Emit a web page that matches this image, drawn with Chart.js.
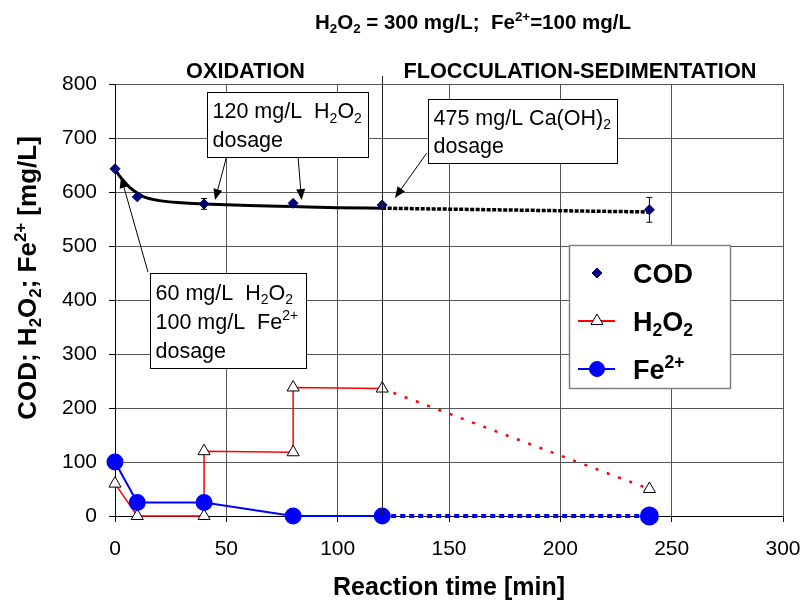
<!DOCTYPE html>
<html>
<head>
<meta charset="utf-8">
<script src="https://cdn.jsdelivr.net/npm/chart.js@4"></script>
<style>
body { margin: 0; background: #fff; }
</style>
</head>
<body>
<canvas id="fenton-chart" width="806" height="603"></canvas>
<script>
const ctx = document.getElementById('fenton-chart');
const FONT = "'Liberation Sans', Arial, sans-serif";

// axis ticks
const xTicks = [0, 50, 100, 150, 200, 250, 300];
const yTicks = [0, 100, 200, 300, 400, 500, 600, 700, 800];

// COD measurements (reaction time [min] / mg/L)
const codTime = [0, 10, 40, 80, 120, 240];
const codValues = [643, 591, 578, 579, 576, 567];
const codErr = [0, 0, 10, 0, 0, 23];

// COD trend curve
const codFitTime = [0, 2, 4, 7, 10, 13, 20, 30, 40, 60, 80, 100, 120];
const codFitValues = [642, 630, 620, 607, 598, 591, 584, 580, 578, 575, 573, 571, 570];
const codTailTime = [120, 240];
const codTailValues = [570, 563];

// H2O2
const h2o2Time = [0, 10, 40, 40, 80, 80, 120];
const h2o2Values = [60, 0, 0, 120, 118, 238, 236];
const h2o2TailTime = [120, 240];
const h2o2TailValues = [236, 50];

// Fe2+
const feTime = [0, 10, 40, 80, 120];
const feValues = [100, 25, 25, 0, 0];
const feTailTime = [120, 240];
const feTailValues = [0, 0];

function pts(xs, ys) {
    return xs.map((x, i) => ({x: x, y: ys[i]}));
}

// rich text: parts = [[text, 'n'|'sub'|'sup'], ...], y = baseline
function richWidth(c, parts, size, weight, family) {
    let w = 0;
    parts.forEach(p => {
        const s = p[1] === 'n' ? size : size * 0.65;
        c.font = `${weight} ${s}px ${family}`;
        w += c.measureText(p[0]).width;
    });
    return w;
}
function drawRich(c, parts, x, y, size, weight, family, align) {
    const w = richWidth(c, parts, size, weight, family);
    let cx = align === 'center' ? x - w / 2 : x;
    c.textAlign = 'left';
    c.textBaseline = 'alphabetic';
    parts.forEach(p => {
        const s = p[1] === 'n' ? size : size * 0.65;
        c.font = `${weight} ${s}px ${family}`;
        let dy = 0;
        if (p[1] === 'sub') dy = size * 0.2;
        if (p[1] === 'sup') dy = -size * 0.4;
        c.fillText(p[0], cx, y + dy);
        cx += c.measureText(p[0]).width;
    });
}

function arrow(c, x1, y1, x2, y2) {
    const a = Math.atan2(y2 - y1, x2 - x1);
    const len = 11, half = 4.5;
    c.beginPath();
    c.moveTo(x1, y1);
    c.lineTo(x2 - Math.cos(a) * len, y2 - Math.sin(a) * len);
    c.lineWidth = 1;
    c.strokeStyle = '#000';
    c.stroke();
    c.beginPath();
    c.moveTo(x2, y2);
    c.lineTo(x2 - Math.cos(a) * len - Math.sin(a) * half, y2 - Math.sin(a) * len + Math.cos(a) * half);
    c.lineTo(x2 - Math.cos(a) * len + Math.sin(a) * half, y2 - Math.sin(a) * len - Math.cos(a) * half);
    c.closePath();
    c.fillStyle = '#000';
    c.fill();
}

// annotation boxes, in data units (min, mg/L)
const notes = [
    {box: [41.3, 113.6, 785, 665], lines: [
        [['120 mg/L  H', 'n'], ['2', 'sub'], ['O', 'n'], ['2', 'sub']],
        [['dosage', 'n']]],
     arrows: [[50.1, 665, 44.9, 585], [82.2, 665, 83.8, 585]]},
    {box: [140.5, 225.4, 772, 654], lines: [
        [['475 mg/L Ca(OH)', 'n'], ['2', 'sub']],
        [['dosage', 'n']]],
     arrows: [[140, 672, 125.7, 589]]},
    {box: [15.7, 85.8, 450, 274], lines: [
        [['60 mg/L  H', 'n'], ['2', 'sub'], ['O', 'n'], ['2', 'sub']],
        [['100 mg/L  Fe', 'n'], ['2+', 'sup']],
        [['dosage', 'n']]],
     arrows: [[14.8, 452, 2.7, 628]]}
];

const extras = {
    id: 'extras',
    afterDatasetsDraw(chart) {
        const c = chart.ctx;
        const xs = chart.scales.x, ys = chart.scales.y;
        c.save();
        // error bars on COD
        c.strokeStyle = '#000';
        c.lineWidth = 1;
        codTime.forEach((t, i) => {
            if (!codErr[i]) return;
            const px = xs.getPixelForValue(t);
            const top = ys.getPixelForValue(codValues[i] + codErr[i]);
            const bot = ys.getPixelForValue(codValues[i] - codErr[i]);
            c.beginPath();
            c.moveTo(px, top); c.lineTo(px, bot);
            c.moveTo(px - 3, top); c.lineTo(px + 3, top);
            c.moveTo(px - 3, bot); c.lineTo(px + 3, bot);
            c.stroke();
        });
        // divider between stages
        const dx = Math.round(xs.getPixelForValue(120)) + 0.5;
        c.beginPath();
        c.moveTo(dx, chart.chartArea.top - 8);
        c.lineTo(dx, chart.chartArea.bottom);
        c.strokeStyle = '#222';
        c.stroke();
        // annotation boxes
        notes.forEach(n => {
            const x0 = Math.round(xs.getPixelForValue(n.box[0])) + 0.5;
            const x1 = Math.round(xs.getPixelForValue(n.box[1])) + 0.5;
            const y0 = Math.round(ys.getPixelForValue(n.box[2])) + 0.5;
            const y1 = Math.round(ys.getPixelForValue(n.box[3])) + 0.5;
            n.arrows.forEach(a => arrow(c, xs.getPixelForValue(a[0]), ys.getPixelForValue(a[1]),
                xs.getPixelForValue(a[2]), ys.getPixelForValue(a[3])));
            c.fillStyle = '#fff';
            c.fillRect(x0, y0, x1 - x0, y1 - y0);
            c.strokeStyle = '#000';
            c.lineWidth = 1;
            c.strokeRect(x0, y0, x1 - x0, y1 - y0);
            c.fillStyle = '#000';
            const step = (y1 - y0 - 8) / n.lines.length;
            n.lines.forEach((ln, i) => {
                drawRich(c, ln, x0 + 5, y0 + 4 + step * (i + 0.5) + 7.5, 21.5, 'normal', FONT, 'left');
            });
        });
        c.restore();
    },
    afterDraw(chart) {
        const c = chart.ctx;
        const xs = chart.scales.x;
        c.save();
        c.fillStyle = '#000';
        // title
        drawRich(c, [['H', 'n'], ['2', 'sub'], ['O', 'n'], ['2', 'sub'], [' = 300 mg/L;  Fe', 'n'], ['2+', 'sup'], ['=100 mg/L', 'n']],
            473, 29, 20.5, 'bold', "'Liberation Sans Narrow', " + FONT, 'center');
        // stage labels
        drawRich(c, [['OXIDATION', 'n']], xs.getPixelForValue(58.6), 77.5, 21.7, 'bold', FONT, 'center');
        drawRich(c, [['FLOCCULATION-SEDIMENTATION', 'n']], xs.getPixelForValue(208.8), 77.5, 21.7, 'bold', FONT, 'center');
        // y title
        c.translate(27, 278);
        c.rotate(-Math.PI / 2);
        drawRich(c, [['COD; H', 'n'], ['2', 'sub'], ['O', 'n'], ['2', 'sub'], ['; Fe', 'n'], ['2+', 'sup'], [' [mg/L]', 'n']],
            0, 9, 26, 'bold', FONT, 'center');
        c.setTransform(1, 0, 0, 1, 0, 0);
        // legend
        const lx = 569.5, ly = 245.5, lw = 161, lh = 143;
        c.fillStyle = '#fff';
        c.fillRect(lx, ly, lw, lh);
        c.strokeStyle = '#808080';
        c.lineWidth = 1.5;
        c.strokeRect(lx, ly, lw, lh);
        const rows = [273, 321, 369];
        const items = [
            {parts: [['COD', 'n']]},
            {parts: [['H', 'n'], ['2', 'sub'], ['O', 'n'], ['2', 'sub']], color: '#ff0000', style: 'triangle', r: 7, fill: '#fff', border: '#000'},
            {parts: [['Fe', 'n'], ['2+', 'sup']], color: '#0000ff', style: 'circle', r: 7.5, fill: '#0000ff', border: '#0000ff'}
        ];
        items.forEach((it, i) => {
            const y = rows[i];
            if (it.color) {
                c.beginPath();
                c.moveTo(578, y); c.lineTo(615, y);
                c.strokeStyle = it.color;
                c.lineWidth = 2;
                c.stroke();
                c.fillStyle = it.fill;
                c.strokeStyle = it.border;
                c.lineWidth = 1;
                Chart.helpers.drawPoint(c, {pointStyle: it.style, radius: it.r, borderWidth: 1}, 597, y);
            } else {
                c.fillStyle = '#000080';
                c.strokeStyle = '#000080';
                c.lineWidth = 1;
                Chart.helpers.drawPoint(c, {pointStyle: 'rectRot', radius: 5, borderWidth: 1}, 597, y);
            }
            c.fillStyle = '#000';
            drawRich(c, it.parts, 633, y + 9.5, 27, 'bold', FONT, 'left');
        });
        c.restore();
    }
};

new Chart(ctx, {
    type: 'scatter',
    data: {
        datasets: [
        {
            label: 'COD',
            data: pts(codTime, codValues),
            showLine: false,
            pointStyle: 'rectRot',
            pointRadius: 5,
            backgroundColor: '#000080',
            borderColor: '#000080',
            clip: false,
            order: 0
        },
        {
            label: 'COD fit',
            data: pts(codFitTime, codFitValues),
            showLine: true,
            borderColor: '#000',
            borderWidth: 3,
            pointRadius: 0,
            cubicInterpolationMode: 'monotone',
            clip: false,
            order: 1
        },
        {
            label: 'COD fit ext',
            data: pts(codTailTime, codTailValues),
            showLine: true,
            borderColor: '#000',
            borderWidth: 3.5,
            borderDash: [4, 1.5],
            pointRadius: 0,
            clip: false,
            order: 1
        },
        {
            label: 'Fe2+',
            data: pts(feTime, feValues),
            showLine: true,
            borderColor: '#0000ff',
            borderWidth: 2,
            pointStyle: 'circle',
            pointRadius: 7.5,
            backgroundColor: '#0000ff',
            clip: false,
            order: 2
        },
        {
            label: 'Fe2+ ext',
            data: pts(feTailTime, feTailValues),
            showLine: true,
            borderColor: '#0000ff',
            borderWidth: 4,
            borderDash: [5, 4],
            pointStyle: 'circle',
            pointRadius: [0, 7.5],
            backgroundColor: '#0000ff',
            clip: false,
            order: 2
        },
        {
            label: 'H2O2',
            data: pts(h2o2Time, h2o2Values),
            showLine: true,
            borderColor: '#ff0000',
            borderWidth: 1.5,
            pointStyle: 'triangle',
            pointRadius: 7,
            pointBackgroundColor: '#fff',
            pointBorderColor: '#000',
            pointBorderWidth: 1,
            clip: false,
            order: 3
        },
        {
            label: 'H2O2 ext',
            data: pts(h2o2TailTime, h2o2TailValues),
            showLine: true,
            borderColor: '#ff0000',
            borderWidth: 2.5,
            borderDash: [3, 9],
            pointStyle: 'triangle',
            pointRadius: [0, 7],
            pointBackgroundColor: '#fff',
            pointBorderColor: '#000',
            pointBorderWidth: 1,
            clip: false,
            order: 3
        }
        ]
    },
    options: {
        responsive: false,
        animation: false,
        layout: {padding: {top: 84, right: 23, left: 0, bottom: 0}},
        plugins: {
            legend: {display: false},
            tooltip: {enabled: false}
        },
        scales: {
            x: {
                type: 'linear',
                min: 0,
                max: 300,
                afterBuildTicks: s => { s.ticks = xTicks.map(v => ({value: v})); },
                afterFit: s => { s.height = 87; s.paddingLeft = 0; s.paddingRight = 0; },
                grid: {color: '#555', tickLength: 6, tickColor: '#000'},
                border: {color: '#000'},
                ticks: {color: '#000', font: {family: FONT, size: 21}, padding: 15, maxRotation: 0},
                title: {display: true, text: 'Reaction time [min]', color: '#000',
                    font: {family: FONT, size: 25, weight: 'bold'}, padding: {top: 0, bottom: 0}}
            },
            y: {
                min: 0,
                max: 800,
                afterBuildTicks: s => { s.ticks = yTicks.map(v => ({value: v})); },
                afterFit: s => { s.width = 115; s.paddingTop = 0; s.paddingBottom = 0; },
                grid: {color: '#555', tickLength: 6, tickColor: '#000'},
                border: {color: '#000'},
                ticks: {color: '#000', font: {family: FONT, size: 21}, padding: 12}
            }
        }
    },
    plugins: [extras]
});
</script>
</body>
</html>
